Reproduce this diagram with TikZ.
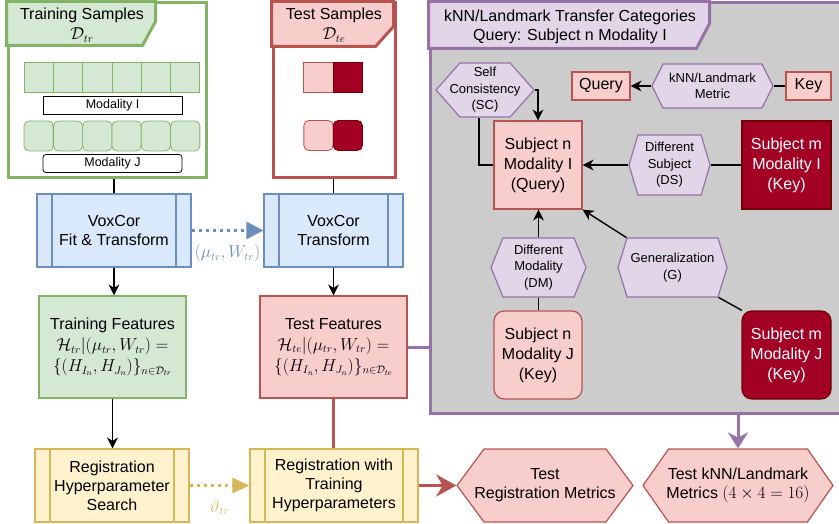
\documentclass[tikz,border=0pt]{standalone}
\usepackage{amsmath}
\usepackage{amssymb}
\usepackage{fontspec}
\setmainfont{Liberation Sans}
\usetikzlibrary{calc,shapes,arrows.meta,positioning}

\definecolor{grnfill}{HTML}{D5E8D4}
\definecolor{grnline}{HTML}{82B366}
\definecolor{redfill}{HTML}{F8CECC}
\definecolor{redline}{HTML}{B85450}
\definecolor{darkfill}{HTML}{A20025}
\definecolor{darkline}{HTML}{6F0000}
\definecolor{bluefill}{HTML}{DAE8FC}
\definecolor{blueline}{HTML}{6C8EBF}
\definecolor{yelfill}{HTML}{FFF2CC}
\definecolor{yelline}{HTML}{D6B656}
\definecolor{purfill}{HTML}{E1D5E7}
\definecolor{purline}{HTML}{9673A6}
\definecolor{greybg}{HTML}{CCCCCC}

\newcommand{\bigsz}{\fontsize{16}{19}\selectfont}
\newcommand{\smallsz}{\fontsize{13}{16.5}\selectfont}
\newcommand{\tinysz}{\fontsize{12.5}{15}\selectfont}

\tikzset{%
    frame_box/.style={%
        draw, rectangle, line width=3pt, inner sep=0pt
    },
    frame_line/.style={%
        line width=3pt, line join=miter
    },
    head_txt/.style={%
        align=center, font=\bigsz, inner sep=0pt
    },
    proc_box/.style={%
        rectangle, draw=#1, line width=1.2pt, align=center, font=\bigsz, inner sep=2pt,
        path picture={%
          \draw[#1, line width=1.2pt]
            ([xshift=15pt]path picture bounding box.north west) -- ([xshift=15pt]path picture bounding box.south west)
            ([xshift=-15pt]path picture bounding box.north east) -- ([xshift=-15pt]path picture bounding box.south east);
        }
    },
    feat_box/.style={%
        rectangle, line width=1.2pt, align=center, font=\bigsz, inner sep=2pt,
        minimum width=147pt, minimum height=102pt
    },
    hexa/.style={%
        signal, signal to=east and west, draw=purline, fill=purfill, line width=1.2pt,
        align=center, font=\smallsz, inner sep=0pt
    },
    metric_hexa/.style={%
        signal, signal to=east and west, draw=redline, fill=redfill, line width=1.2pt,
        align=center, font=\bigsz, inner sep=0pt, minimum height=73pt
    },
    subj_box/.style={%
        rectangle, line width=1.2pt, align=center, font=\bigsz, inner sep=0pt,
        minimum width=88pt, minimum height=88pt
    },
    light_subj/.style={%
        subj_box, draw=redline, fill=redfill
    },
    dark_subj/.style={%
        subj_box, draw=darkline, fill=darkfill, text=white
    },
    cell/.style={%
        rectangle, draw=grnline, fill=grnfill, line width=0.8pt, inner sep=0pt,
        minimum width=29.3pt, minimum height=30pt
    },
    mod_label/.style={%
        rectangle, draw=black, fill=white, line width=0.8pt, inner sep=0pt, font=\tinysz,
        minimum width=139pt, minimum height=18pt
    },
    link/.style={%
        line width=1.4pt, -{Stealth[length=11pt,width=11pt]}
    },
    plain/.style={%
        line width=1.4pt
    },
}

\begin{document}
\begin{tikzpicture}[x=1pt,y=-1pt]
  \useasboundingbox (0,0) rectangle (839,524);
  \clip (0,0) rectangle (839,524);

  % training samples
  \node[frame_box, draw=grnline, minimum width=198pt, minimum height=175pt] (trframe) at (107,90.5) {};
  \draw[frame_line, draw=grnline, fill=grnfill] (trframe.north west) -- ++(149,0) -- ++(0,20) -- ++(-13,24) -- ++(-136,0) -- cycle;
  \node[head_txt] (trhead) at (82,25) {Training Samples\\[1pt]$\mathcal{D}_{tr}$};
  \foreach \i in {0,...,5} {
    \node[cell] (tri\i) at (38.7+29.3*\i,77) {};
    \node[cell, rounded corners=5pt] (trj\i) at (38.7+29.3*\i,136) {};
  }
  \node[mod_label] (trmodi) at (112.5,105) {Modality $\mathrm{I}$};
  \node[mod_label, rounded corners=3pt] (trmodj) at (112.5,163.5) {Modality $\mathrm{J}$};

  % test samples
  \node[frame_box, draw=redline, minimum width=122pt, minimum height=175pt] (teframe) at (334,90.5) {};
  \draw[frame_line, draw=redline, fill=redfill] (teframe.north west) -- ++(122,0) -- ++(0,25) -- ++(-18,20) -- ++(-104,0) -- cycle;
  \node[head_txt] (tehead) at (334,25) {Test Samples\\[1pt]$\mathcal{D}_{te}$};
  \node[cell, draw=redline, fill=redfill] (tei1) at (318.5,77) {};
  \node[cell, draw=darkline, fill=darkfill] (tei2) at (347.8,77) {};
  \node[cell, draw=redline, fill=redfill, rounded corners=5pt] (tej1) at (318.5,135.5) {};
  \node[cell, draw=darkline, fill=darkfill, rounded corners=5pt] (tej2) at (347.8,135.5) {};

  % voxcor
  \node[proc_box=blueline, fill=bluefill, minimum width=154pt, minimum height=73pt] (voxft) at (114,230.5) {VoxCor\\Fit \& Transform};
  \node[proc_box=blueline, fill=bluefill, minimum width=139pt, minimum height=73pt] (voxt) at (333.5,230.5) {VoxCor\\Transform};

  % features
  \node[feat_box, draw=grnline, fill=grnfill] (trfeat) at (112.5,347) {Training Features\\[2pt]$\mathcal{H}_{tr}|(\mu_{tr},W_{tr})=$\\[2pt]$\{(H_{I_n},H_{J_n})\}_{n\in\mathcal{D}_{tr}}$};
  \node[feat_box, draw=redline, fill=redfill] (tefeat) at (333.5,347) {Test Features\\[2pt]$\mathcal{H}_{te}|(\mu_{tr},W_{tr})=$\\[2pt]$\{(H_{I_n},H_{J_n})\}_{n\in\mathcal{D}_{te}}$};

  % registration
  \node[proc_box=yelline, fill=yelfill, minimum width=154pt, minimum height=73pt] (reghs) at (112,485.5) {Registration\\Hyperparameter\\Search};
  \node[proc_box=yelline, fill=yelfill, minimum width=168pt, minimum height=73pt] (regwt) at (334,485.5) {Registration with\\Training\\Hyperparameters};
  \node[metric_hexa, signal pointer angle=107, minimum width=176pt, inner xsep=-10pt] (regmet) at (545,485.5) {Test\\Registration Metrics};
  \node[metric_hexa, signal pointer angle=110, minimum width=190pt, inner xsep=-3pt] (knnmet) at (738,485.5) {Test kNN/Landmark\\Metrics $(4\times 4=16)$};

  % transfer categories
  \node[frame_box, draw=purline, fill=greybg, minimum width=420pt, minimum height=410pt] (catframe) at (640,208) {};
  \draw[frame_line, draw=purline, fill=purfill] (catframe.north west) -- ++(281,0) -- ++(0,22) -- ++(-13,25) -- ++(-268,0) -- cycle;
  \node[head_txt] (cathead) at (570,27) {kNN/Landmark Transfer Categories\\Query: Subject $\mathrm{n}$ Modality $\mathrm{I}$};

  \node[hexa, signal pointer angle=97, minimum width=98pt, minimum height=54pt, inner xsep=-11pt] (sc) at (485,90) {Self\\Consistency\\(SC)};
  \node[rectangle, draw=redline, fill=redfill, line width=1.2pt, font=\bigsz, minimum width=58pt, minimum height=28pt, inner sep=0pt] (query) at (601,86) {Query};
  \node[hexa, signal pointer angle=127, minimum width=121pt, minimum height=44pt] (metric) at (712.5,86) {kNN/Landmark\\Metric};
  \node[rectangle, draw=redline, fill=redfill, line width=1.2pt, font=\bigsz, minimum width=45pt, minimum height=28pt, inner sep=0pt] (key) at (808.5,86) {Key};

  \node[light_subj] (subni) at (538,165) {Subject $\mathrm{n}$\\[1pt]Modality $\mathrm{I}$\\[1pt](Query)};
  \node[hexa, signal pointer angle=147, minimum width=81pt, minimum height=60pt] (ds) at (669.5,165) {Different\\Subject\\(DS)};
  \node[dark_subj, minimum width=89pt] (submi) at (786.5,165) {Subject $\mathrm{m}$\\[1pt]Modality $\mathrm{I}$\\[1pt](Key)};
  \node[hexa, signal pointer angle=136, minimum width=95pt, minimum height=59pt] (dm) at (538.5,267.5) {Different\\Modality\\(DM)};
  \node[hexa, signal pointer angle=146, minimum width=109pt, minimum height=59pt] (gen) at (672.5,267.5) {Generalization\\(G)};
  \node[light_subj, rounded corners=10pt] (subnj) at (538,355) {Subject $\mathrm{n}$\\[1pt]Modality $\mathrm{J}$\\[1pt](Key)};
  \node[dark_subj, minimum width=89pt, rounded corners=10pt] (submj) at (786.5,355) {Subject $\mathrm{m}$\\[1pt]Modality $\mathrm{J}$\\[1pt](Key)};

  % connectors
  \draw[plain] (trframe.south -| voxft.north) -- (voxft.north);
  \draw[plain] (teframe.south -| voxt.north) -- (voxt.north);
  \draw[link] (voxft.south) -- (trfeat.north -| voxft.south);
  \draw[link] (voxt.south) -- (tefeat.north);
  \draw[link] (trfeat.south) -- (reghs.north -| trfeat.south);
  \draw[blueline, line width=3pt, dash pattern=on 3.5pt off 3.5pt, -{Triangle[length=17pt,width=17pt]}] (voxft.east) -- (voxt.west)
    node[midway, yshift=-23pt, text=blueline, font=\bigsz] {$(\mu_{tr},W_{tr})$};
  \draw[yelline, line width=3pt, dash pattern=on 3.5pt off 3.5pt, -{Triangle[length=17pt,width=15pt]}] (reghs.east) -- (regwt.west)
    node[midway, yshift=-22pt, text=yelline, font=\bigsz] {$\vartheta_{tr}$};
  \draw[redline, line width=3.5pt] (tefeat.south) -- (regwt.north -| tefeat.south);
  \draw[redline, line width=3.5pt, -{Stealth[length=20pt,width=22pt]}] (regwt.east) -- (regmet.west);
  \draw[purline, line width=3pt] (tefeat.east) -- (tefeat.east -| catframe.west);
  \draw[purline, line width=3pt, -{Stealth[length=16pt,width=20pt]}] (knnmet.north |- catframe.south) -- (knnmet.north);

  \draw[link] (metric.west) -- (query.east);
  \draw[plain] (key.west) -- (metric.east);
  \draw[link] (sc.east) -| (subni.north);
  \draw[plain] (subni.west) -| ([xshift=-6pt]sc.south);
  \draw[link] (ds.west) -- (subni.east);
  \draw[plain] (submi.west) -- (ds.east);
  \draw[link] (dm.north) -- (subni.south -| dm.north);
  \draw[plain] (subnj.north -| dm.south) -- (dm.south);
  \draw[link] (gen.147) -- (subni.south east);
  \draw[plain] (submj.135) -- (gen.-33);

\end{tikzpicture}
\end{document}
